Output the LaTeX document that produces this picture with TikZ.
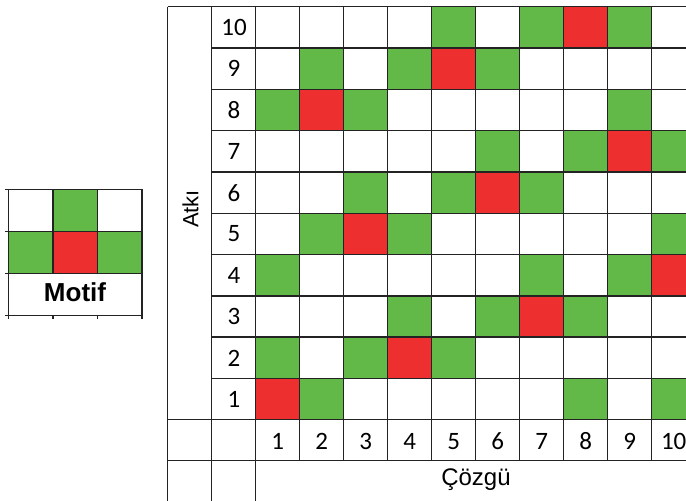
\documentclass[tikz,border=0pt]{standalone}
\usepackage{fontspec}
\setmainfont{Liberation Sans}
\newfontfamily\numfont{Carlito}
\definecolor{cgreen}{RGB}{99,185,72}
\definecolor{cred}{RGB}{237,47,47}
\definecolor{gridc}{RGB}{35,35,35}
\tikzset{
  gridline/.style={draw=gridc, line width=1.4pt},
  numlabel/.style={inner sep=0pt, font=\numfont\fontsize{25}{25}\selectfont},
  greencell/.style={fill=cgreen},
  redcell/.style={fill=cred},
}
\begin{document}
\begin{tikzpicture}[x=1pt,y=-1pt]
\useasboundingbox (0,0) rectangle (686,501);
\fill[white] (0,0) rectangle (686,501);
% ---------- motif ----------
\fill[greencell] (52.8,189.3) rectangle (97.3,231.3);
\fill[greencell] (8.3,231.3) rectangle (52.8,273.3);
\fill[redcell] (52.8,231.3) rectangle (97.3,273.3);
\fill[greencell] (97.3,231.3) rectangle (141.8,273.3);
\foreach \yy in {189.3,231.3,273.3,315.3} \draw[gridline] (5,\yy) -- (141.8,\yy);
\foreach \xx in {8.3,141.8} \draw[gridline] (\xx,189.3) -- (\xx,318.5);
\foreach \xx in {52.8,97.3} {
  \draw[gridline] (\xx,189.3) -- (\xx,273.3);
  \draw[gridline] (\xx,315.3) -- (\xx,318.5);
}
\node[inner sep=0pt, font=\bfseries\fontsize{26}{26}\selectfont] (motif) at (75,292.5) {Motif};
% ---------- cells ----------
\foreach \r/\c in {10/5,10/7,10/9,9/2,9/4,9/6,8/1,8/3,8/9,7/6,7/8,7/10,6/3,6/5,6/7,5/2,5/4,5/10,4/1,4/7,4/9,3/4,3/6,3/8,2/1,2/3,2/5,1/2,1/8,1/10} {
  \pgfmathsetmacro\xa{255.7+44*(\c-1)}
  \pgfmathsetmacro\ya{6.7+41.3*(10-\r)}
  \fill[greencell] (\xa,\ya) rectangle ++(44,41.3);
}
\foreach \r/\c in {10/8,9/5,8/2,7/9,6/6,5/3,4/10,3/7,2/4,1/1} {
  \pgfmathsetmacro\xa{255.7+44*(\c-1)}
  \pgfmathsetmacro\ya{6.7+41.3*(10-\r)}
  \fill[redcell] (\xa,\ya) rectangle ++(44,41.3);
}
% ---------- grid lines ----------
\draw[gridline] (167.5,6.7) -- (690,6.7);
\foreach \k in {1,...,9} {
  \pgfmathsetmacro\yy{6.7+41.3*\k}
  \draw[gridline] (211.7,\yy) -- (690,\yy);
}
\draw[gridline] (167.5,419.3) -- (690,419.3);
\draw[gridline] (167.5,460.3) -- (690,460.3);
\draw[gridline] (167.5,6.7) -- (167.5,505);
\draw[gridline] (211.7,6.7) -- (211.7,505);
\draw[gridline] (255.7,6.7) -- (255.7,505);
\foreach \j in {1,...,9} {
  \pgfmathsetmacro\xx{255.7+44*\j}
  \draw[gridline] (\xx,6.7) -- (\xx,460.3);
}
% ---------- labels ----------
\foreach \r in {1,...,10} {
  \pgfmathsetmacro\yc{6.7+41.3*(10-\r)+20.8}
  \node[numlabel] (row\r) at (234,\yc) {\r};
}
\foreach \c in {1,...,10} {
  \pgfmathsetmacro\xc{255.7+44*(\c-1)+22}
  \node[numlabel] (col\c) at (\xc,441.5) {\c};
}
\node[inner sep=0pt, rotate=90, font=\fontsize{22}{22}\selectfont] (atki) at (190.5,209) {Atkı};
\node[inner sep=0pt, font=\fontsize{24}{24}\selectfont] (cozgu) at (476,480) {Çözgü};
\end{tikzpicture}
\end{document}
